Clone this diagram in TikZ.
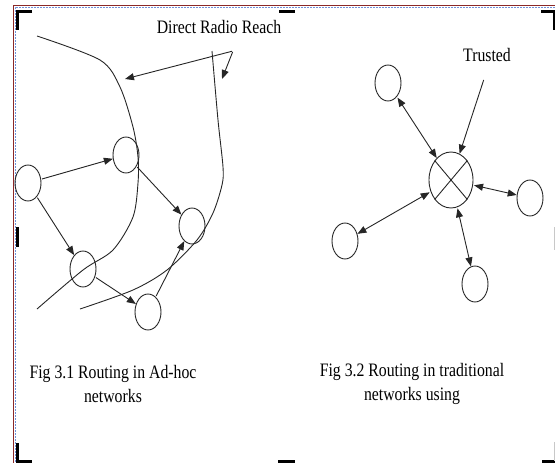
\documentclass[tikz,border=0pt]{standalone}
\usepackage{fontspec}
\setmainfont{Liberation Serif}
\newfontfamily\scanfont[FakeStretch=0.83]{Liberation Serif}
\usetikzlibrary{arrows.meta,shapes.geometric}
\definecolor{InkGray}{HTML}{262626}
\definecolor{EdgeRed}{HTML}{8B2828}
\definecolor{EdgeBlue}{HTML}{7090D8}
\definecolor{MarkGray}{HTML}{C8C8C8}

\begin{document}
\begin{tikzpicture}[
  x=1pt, y=-1pt,
  peer/.style={draw=InkGray,ellipse,line width=0.9pt,minimum width=26pt,minimum height=36pt,inner sep=0pt},
  hub/.style={peer,minimum width=44pt,minimum height=56pt},
  arrow/.style={-{Triangle[length=9pt,width=7pt]},line width=0.9pt,draw=InkGray,shorten <=1pt},
  twoway/.style={arrow,{Triangle[length=9pt,width=7pt]}-{Triangle[length=9pt,width=7pt]}},
  reach/.style={line width=0.9pt,draw=InkGray},
  figtext/.style={font=\scanfont\fontsize{19}{24}\selectfont,text=black,inner sep=0pt,align=center},
  crop/.style={line width=3pt,black}
]
  \useasboundingbox (0,0) rectangle (555,463);

  % page edge and crop marks
  \draw[EdgeRed,line width=0.8pt] (555,5.5) -- (13.5,5.5) -- (13.5,463);
  \draw[EdgeBlue,line width=0.6pt,dash pattern=on 2pt off 1pt] (555,7) -- (15,7) -- (15,463);
  \draw[crop] (32,11) -- (17,11) -- (17,30);
  \draw[crop] (279,11) -- (295,11);
  \draw[crop] (541,11) -- (554,11) -- (554,30);
  \draw[crop] (17,227) -- (17,247);
  \draw[crop] (17,443) -- (17,461.5) -- (32,461.5);
  \draw[crop] (278,461.5) -- (295,461.5);
  \draw[crop] (542,461.5) -- (555,461.5);
  \draw[MarkGray,line width=1pt] (554.5,442) -- (554.5,461);
  \draw[MarkGray,line width=1pt] (554.5,227) -- (554.5,250);

  % ad-hoc network
  \node[peer] (a1) at (28,183) {};
  \node[peer] (a2) at (126,155) {};
  \node[peer] (a3) at (192,226) {};
  \node[peer] (a4) at (83,269) {};
  \node[peer] (a5) at (148,312) {};

  \draw[arrow] (a1) -- (a2);
  \draw[arrow] (a2) -- (a3);
  \draw[arrow] (a1) -- (a4);
  \draw[arrow] (a4) -- (a5);
  \draw[arrow] (a5) -- (a3);

  % radio reach
  \draw[reach] plot[smooth] coordinates {(37,36) (100,60) (120,87) (133,127) (138,157) (138,183) (133,217) (113,250) (83,270) (37,309)};
  \draw[reach] plot[smooth] coordinates {(212,51) (218,120) (223,167) (222,185) (213,213) (197,240) (167,270) (133,290) (80,309)};

  \node[figtext] (reach) at (219,27) {Direct Radio Reach};
  \coordinate (fork) at (233,51);
  \coordinate (hitL) at (125,79);
  \coordinate (hitR) at (222,79);
  \draw[arrow] (fork) -- (hitL);
  \draw[arrow] (fork) -- (hitR);

  % traditional network
  \node[hub] (ctr) at (451,180) {};
  \draw[reach] (ctr.130) -- (ctr.-50) (ctr.50) -- (ctr.-130);
  \node[peer] (t1) at (388,83) {};
  \node[peer] (t2) at (530,198) {};
  \node[peer] (t3) at (345,241) {};
  \node[peer] (t4) at (475,284) {};

  \draw[twoway] (t1) -- (ctr);
  \draw[twoway] (ctr) -- (t2);
  \draw[twoway] (ctr) -- (t3);
  \draw[twoway] (ctr) -- (t4);

  \node[figtext] (trusted) at (487,55) {Trusted};
  \coordinate (trustTail) at (484,79);
  \draw[arrow] (trustTail) -- (ctr);

  % captions
  \node[figtext] (cap1) at (113,384) {Fig 3.1 Routing in Ad-hoc\\networks};
  \node[figtext] (cap2) at (412,384) {Fig 3.2 Routing in traditional\\networks using};
\end{tikzpicture}
\end{document}
